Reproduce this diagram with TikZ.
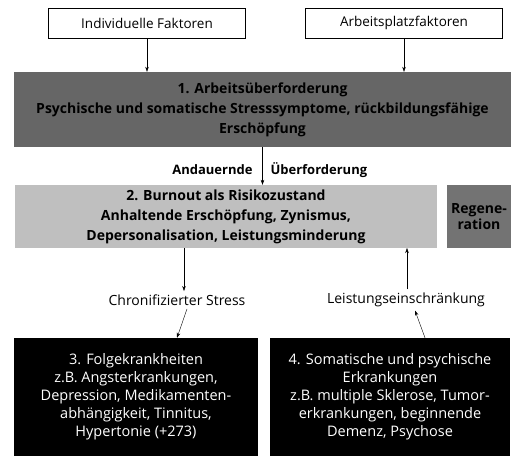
\documentclass[tikz,border=0pt]{standalone}
\usepackage{fontspec}
\setmainfont{Open Sans}
\usetikzlibrary{arrows.meta}

\begin{document}
\begin{tikzpicture}[x=1pt,y=-1pt,
    font=\fontsize{14}{16}\selectfont,
    factor/.style={draw, thin, minimum width=197pt, minimum height=30pt, font=\fontsize{13.5}{16}\selectfont},
    band/.style={inner sep=0pt, align=center, font=\fontsize{14}{20}\selectfont\bfseries},
    illbox/.style={fill=black, text=white, inner sep=0pt, align=center, font=\fontsize{14.5}{18}\selectfont},
    arr/.style={-{Stealth[length=5pt,width=3.5pt]}, thin}]
    \useasboundingbox (0,0) rectangle (511,460);
    \node[factor] (indiv) at (147,23) {Individuelle Faktoren};
    \node[factor] (arbeit) at (404,23) {Arbeitsplatzfaktoren};
    \node[band, fill=black!60, minimum width=497pt, minimum height=75pt] (stage1) at (262.5,109.5)
        {1. Arbeitsüberforderung\\Psychische und somatische Stresssymptome, rückbildungsfähige\\Erschöpfung};
    \node[band, fill=black!25, minimum width=422pt, minimum height=63pt] (stage2) at (226,216.5)
        {2. Burnout als Risikozustand\\Anhaltende Erschöpfung, Zynismus,\\Depersonalisation, Leistungsminderung};
    \node[band, fill=black!55, minimum width=64pt, minimum height=63pt, font=\fontsize{14}{16}\selectfont\bfseries] (regen) at (479,216.5)
        {Regene-\\ration};
    \node[font=\fontsize{13}{15}\selectfont\bfseries, anchor=east] (andauernd) at (256,170) {Andauernde};
    \node[font=\fontsize{13}{15}\selectfont\bfseries, anchor=west] (ueber) at (267,170) {Überforderung};
    \node (chron) at (177,300) {Chronifizierter Stress};
    \node (leist) at (406,300) {Leistungseinschränkung};
    \node[illbox, minimum width=244pt, minimum height=118pt] (folge) at (136,397)
        {3. Folgekrankheiten\\z.B. Angsterkrankungen,\\Depression, Medikamenten-\\abhängigkeit, Tinnitus,\\Hypertonie (+273)};
    \node[illbox, minimum width=240pt, minimum height=118pt] (somat) at (390,397)
        {4. Somatische und psychische\\Erkrankungen\\z.B. multiple Sklerose, Tumor-\\erkrankungen, beginnende\\Demenz, Psychose};
    \coordinate (s2l) at (184,248);
    \coordinate (s2r) at (407,248);
    \draw[arr] (indiv) -- (indiv |- stage1.north);
    \draw[arr] (arbeit) -- (arbeit |- stage1.north);
    \draw[arr] (stage1.south) -- (stage2.north -| stage1.south);
    \draw[arr] (s2l) -- (s2l |- chron.north);
    \draw[arr] ([xshift=10pt]chron.south) -- ([xshift=41pt]folge.north);
    \draw[arr] ([xshift=35pt]somat.north) -- ([xshift=9pt]leist.south);
    \draw[arr] (leist.north -| s2r) -- (s2r);
\end{tikzpicture}
\end{document}
